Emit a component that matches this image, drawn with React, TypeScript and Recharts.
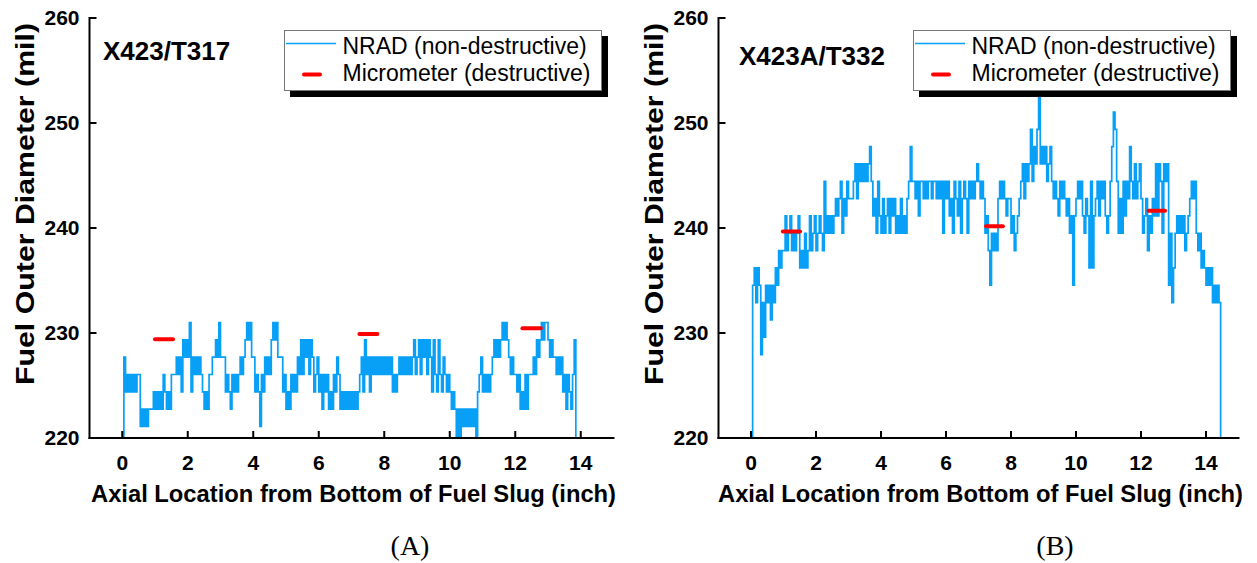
import React from 'react'
import { LineChart, Line, XAxis, YAxis, Legend } from 'recharts'

const xTicks = [0, 2, 4, 6, 8, 10, 12, 14]
const xMinorTicks = [1, 3, 5, 7, 9, 11, 13]
const yTicks = [220, 230, 240, 250, 260]
const yMinorTicks = [225, 235, 245, 255]

// NRAD trace: one char per 0.05 inch, each char is the
// pixel level of the trace (base 36), value = base + level * quantum
const nradStep = 0.05
const nradQuantum = 1.65
const nradBaseA = 219.45
const nradBaseB = 219.7

const nradLevelsA = [
  '0534343434', '4121212223', '2323243232', '4445453656', '5735454543',
  '2324455657', '5553432434', '3454567675', '5343143545', '4676755534',
  '2324343546', '4656465345', '3424342324', '3542323232', '3232345364',
  '5354545454', '5454534345', '4545454564', '5646564653', '6436435434',
  '3232020212', '1212120345', '3434345656', '5676765454', '4342324244',
  '4546567677', '6565545453', '42432460',
].join('')

const nradLevelsB = [
  '09a8a95869', '89798a9bab', 'bdbcdbcbcd', 'abacabdbcd', 'bcdcbfcdcd',
  'cdedefcedf', 'eeefgegfgf', 'gfghfdecfd', 'cecdecedec', 'dcecdcefhf',
  'fefdffefef', 'feffefefcf', 'efdecfedfc', 'efecfefefg', 'fefecdb9cb',
  'cbefefedee', 'cdbcdefgeg', 'fgifhgikgh', 'ghfghfefed', 'fefedecd9d',
  'efefdcedaf', 'adefdfefdc', 'dfhjifcecf', 'dfehfegefg', 'ecdebdcedg',
  'dgfcgfg9c8', 'acdcdcdbcd', 'efefcbcaba', '9a9a898980',
].join('')

// micrometer (destructive) readings: start, end, value
const microStartA = [1.0, 7.24, 12.22]
const microEndA = [1.55, 7.79, 12.78]
const microValueA = [229.4, 229.9, 230.45]
const microStartB = [0.98, 7.23, 12.23]
const microEndB = [1.51, 7.75, 12.74]
const microValueB = [239.66, 240.17, 241.64]

const FONT = '"Liberation Sans", Arial, sans-serif'
const BLUE = '#08a0f7'
const RED = '#ff0000'

function decode(levels: string, base: number) {
  return levels.split('').map((c, i) => ({
    x: +(i * nradStep).toFixed(2),
    y: +(base + parseInt(c, 36) * nradQuantum).toFixed(2),
  }))
}

function segments(starts: number[], ends: number[], values: number[]) {
  return starts.map((s, i) => [
    { x: s, y: values[i] },
    { x: ends[i], y: values[i] },
  ])
}

const renderLegend = () => (
  <svg width={326} height={68} style={{ display: 'block' }}>
    <rect x={6} y={6} width={318} height={61} fill="#000" />
    <rect x={0.5} y={0.5} width={317} height={60} fill="#fff" stroke="#777" />
    <line x1={2} y1={13.5} x2={52} y2={13.5} stroke={BLUE} strokeWidth={1.5} />
    <line x1={20} y1={44.5} x2={36} y2={44.5} stroke={RED} strokeWidth={4} strokeLinecap="round" />
    <text x={58.5} y={23.5} fontFamily={FONT} fontSize={23} fill="#000">NRAD (non-destructive)</text>
    <text x={58.5} y={51} fontFamily={FONT} fontSize={23} fill="#000">Micrometer (destructive)</text>
  </svg>
)

const axisLine = { stroke: '#000', strokeWidth: 2, strokeLinecap: 'square' as const }
const tickLine = { stroke: '#000', strokeWidth: 2 }
const tickStyle = { fill: '#000', fontSize: 21, fontWeight: 700, fontFamily: FONT }

type PanelProps = {
  panelLeft: number
  width: number
  plotLeft: number
  plotRight: number
  legendLeft: number
  nrad: { x: number; y: number }[]
  micro: { x: number; y: number }[][]
}

function Panel({ panelLeft, width, plotLeft, plotRight, legendLeft, nrad, micro }: PanelProps) {
  const margin = { top: 18, right: panelLeft + width - plotRight, bottom: 65, left: plotLeft - panelLeft - 60 }
  return (
    <div style={{ position: 'absolute', left: panelLeft, top: 0 }}>
      <LineChart width={width} height={563} margin={margin}>
        <XAxis xAxisId="bm" type="number" domain={[-1, 15]} allowDataOverflow ticks={xMinorTicks}
          height={0} tick={false} tickSize={-4} axisLine={false} tickLine={tickLine} />
        <XAxis xAxisId="b" dataKey="x" type="number" domain={[-1, 15]} allowDataOverflow ticks={xTicks}
          height={60} tickSize={-7} tickMargin={24} axisLine={axisLine} tickLine={tickLine} tick={tickStyle}
          label={{
            content: (p: any) => (
              <text x={p.viewBox.x + p.viewBox.width / 2 + 2} y={p.viewBox.y + 64} textAnchor="middle"
                textLength={525} lengthAdjust="spacingAndGlyphs"
                fontFamily={FONT} fontSize={23.5} fontWeight={700} fill="#000">
                Axial Location from Bottom of Fuel Slug (inch)
              </text>
            ),
          }} />
        <XAxis xAxisId="tm" orientation="top" type="number" domain={[-1, 15]} allowDataOverflow ticks={xMinorTicks}
          height={0} tick={false} tickSize={-4} axisLine={false} tickLine={tickLine} />
        <XAxis xAxisId="t" orientation="top" type="number" domain={[-1, 15]} allowDataOverflow ticks={xTicks}
          height={0} tick={false} tickSize={-7} axisLine={axisLine} tickLine={tickLine} />
        <YAxis yAxisId="lm" type="number" domain={[220, 260]} allowDataOverflow ticks={yMinorTicks}
          width={0} tick={false} tickSize={-4} axisLine={false} tickLine={tickLine} />
        <YAxis yAxisId="l" type="number" domain={[220, 260]} allowDataOverflow ticks={yTicks}
          width={60} tickSize={-7} tickMargin={17} axisLine={axisLine} tickLine={tickLine} tick={tickStyle}
          label={{
            content: (p: any) => {
              const cx = p.viewBox.x - 5
              const cy = p.viewBox.y + p.viewBox.height / 2 - 24
              return (
                <text x={cx} y={cy} transform={`rotate(-90 ${cx} ${cy})`} textAnchor="middle"
                  dominantBaseline="central" textLength={362} lengthAdjust="spacingAndGlyphs"
                  fontFamily={FONT} fontSize={25} fontWeight={700} fill="#000">
                  Fuel Outer Diameter (mil)
                </text>
              )
            },
          }} />
        <YAxis yAxisId="rm" orientation="right" type="number" domain={[220, 260]} allowDataOverflow ticks={yMinorTicks}
          width={0} tick={false} tickSize={-4} axisLine={false} tickLine={tickLine} />
        <YAxis yAxisId="r" orientation="right" type="number" domain={[220, 260]} allowDataOverflow ticks={yTicks}
          width={0} tick={false} tickSize={-7} axisLine={axisLine} tickLine={tickLine} />
        <Legend content={renderLegend} layout="horizontal" verticalAlign="middle" align="center"
          wrapperStyle={{ left: legendLeft - panelLeft, top: 30, width: 326, height: 68 }} />
        <Line data={nrad} dataKey="y" xAxisId="b" yAxisId="l" type="stepAfter" stroke={BLUE}
          strokeWidth={1.7} dot={false} activeDot={false} isAnimationActive={false} />
        {micro.map((seg, i) => (
          <Line key={i} data={seg} dataKey="y" xAxisId="b" yAxisId="l" type="linear" stroke={RED}
            strokeWidth={4} strokeLinecap="round" dot={false} activeDot={false} legendType="none"
            isAnimationActive={false} />
        ))}
      </LineChart>
    </div>
  )
}

export default function App() {
  const nradA = decode(nradLevelsA, nradBaseA)
  const nradB = decode(nradLevelsB, nradBaseB)
  return (
    <div style={{ position: 'absolute', left: 0, top: 0, width: 1257, height: 563, background: '#fff', overflow: 'hidden' }}>
      <Panel panelLeft={0} width={630} plotLeft={89.5} plotRight={613.5} legendLeft={283.5}
        nrad={nradA} micro={segments(microStartA, microEndA, microValueA)} />
      <Panel panelLeft={630} width={627} plotLeft={718.5} plotRight={1238.5} legendLeft={912.5}
        nrad={nradB} micro={segments(microStartB, microEndB, microValueB)} />
      <svg width={1257} height={563} style={{ position: 'absolute', left: 0, top: 0, pointerEvents: 'none' }}>
        <text x={103} y={60} fontFamily={FONT} fontSize={26} fontWeight={700} fill="#000">X423/T317</text>
        <text x={739} y={65} fontFamily={FONT} fontSize={26} fontWeight={700} fill="#000">X423A/T332</text>
        <text x={410} y={555} textAnchor="middle" fontFamily='"Liberation Serif", "Times New Roman", serif' fontSize={28} fill="#000">(A)</text>
        <text x={1055} y={555} textAnchor="middle" fontFamily='"Liberation Serif", "Times New Roman", serif' fontSize={28} fill="#000">(B)</text>
      </svg>
    </div>
  )
}
